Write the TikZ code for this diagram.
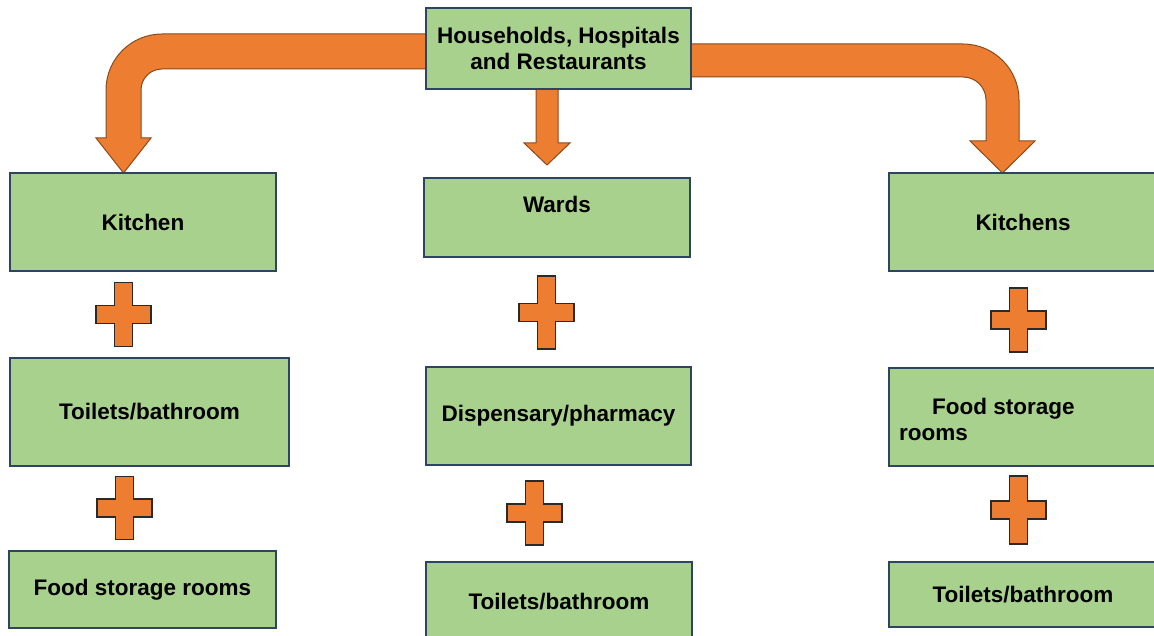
\documentclass[tikz,border=0pt]{standalone}
\usepackage{fontspec}
\setmainfont{Liberation Sans}
\definecolor{boxgreen}{HTML}{A9D18E}
\definecolor{boxline}{HTML}{2F4461}
\definecolor{flow}{HTML}{ED7D31}
\definecolor{flowline}{HTML}{8A4A1C}
\definecolor{plusline}{HTML}{2A2A2A}
\tikzset{
  box/.style={draw=boxline, fill=boxgreen, line width=1.3pt, inner sep=0pt,
    font=\bfseries\fontsize{22.5}{26}\selectfont, align=center},
  label/.style={inner sep=0pt, font=\bfseries\fontsize{22.5}{26}\selectfont},
  blockarrow/.style={fill=flow, draw=flowline, line width=1pt, line join=miter},
  % plus sign; the argument is half of its height
  pics/crossmark/.style={code={
    \draw[fill=flow, draw=plusline, line width=1.2pt]
      (-9,-#1) -- (9,-#1) -- (9,-9) -- (27.5,-9) -- (27.5,9) -- (9,9)
      -- (9,#1) -- (-9,#1) -- (-9,9) -- (-27.5,9) -- (-27.5,-9) -- (-9,-9) -- cycle;
  }},
  pics/crossmark/.default=32
}
\begin{document}
\begin{tikzpicture}[x=1pt, y=-1pt]
  \useasboundingbox (0,0) rectangle (1154,636);
  \clip (0,0) rectangle (1154,636);

  % bent arrow to the left column
  \draw[blockarrow]
    (440,34) -- (162,34) .. controls (131.1,34) and (106,59.1) .. (106,90)
    -- (106,138) -- (96,138) -- (123.5,173) -- (151,138) -- (141,138)
    -- (141,90) .. controls (141,78.4) and (150.4,69) .. (162,69)
    -- (440,69) -- cycle;
  % bent arrow to the right column
  \draw[blockarrow]
    (680,44) -- (963,44) .. controls (993.9,44) and (1019,69.1) .. (1019,100)
    -- (1019,141) -- (1035,141) -- (1002.5,173) -- (970,141) -- (986,141)
    -- (986,100) .. controls (986,87.3) and (975.7,77) .. (963,77)
    -- (680,77) -- cycle;
  % straight arrow to the middle column
  \draw[blockarrow]
    (536,80) -- (536,143) -- (524,143) -- (547,165) -- (570,143)
    -- (558,143) -- (558,80) -- cycle;

  % source
  \node[box, minimum width=265pt, minimum height=81pt] (source) at (558.5,48.5)
    {Households, Hospitals\\and Restaurants};

  % left column: households
  \node[box, minimum width=266pt, minimum height=98pt] (kitchenL) at (143,222) {Kitchen};
  \node[box, minimum width=279pt, minimum height=108pt] (toiletsL) at (149.5,412) {Toilets/bathroom};
  \node[box, minimum width=267pt, minimum height=77pt] (foodL) at (142.5,589.5) {Food storage rooms};
  \pic at (123.5,314.5) {crossmark};
  \pic at (124.5,508) {crossmark=31.5};

  % middle column: hospitals
  \node[box, minimum width=266pt, minimum height=79pt] (wards) at (557,217.5) {};
  \node[label] (wardsText) at (557,204) {Wards};
  \node[box, minimum width=265pt, minimum height=98pt] (dispensary) at (558.5,416) {Dispensary/pharmacy};
  \node[box, minimum width=266pt, minimum height=80pt] (toiletsM) at (559,602) {Toilets/bathroom};
  \pic at (546.5,312.5) {crossmark=36.5};
  \pic at (534.5,513) {crossmark};

  % right column: restaurants
  \node[box, minimum width=268pt, minimum height=98pt] (kitchensR) at (1023,222) {Kitchens};
  \node[box, minimum width=268pt, minimum height=98pt] (foodR) at (1023,417) {};
  \node[label, anchor=west, align=left] (foodRText) at (899,419)
    {\hspace*{33pt}Food storage\\rooms};
  \node[box, minimum width=268pt, minimum height=65pt] (toiletsR) at (1023,594.5) {Toilets/bathroom};
  \pic at (1018.5,320) {crossmark};
  \pic at (1018.5,510) {crossmark=34};
\end{tikzpicture}
\end{document}
